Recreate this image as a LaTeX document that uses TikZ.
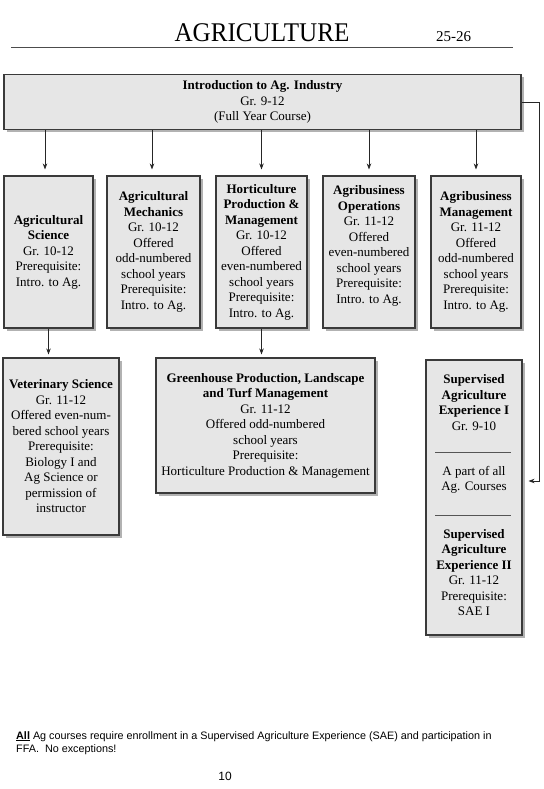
\documentclass[tikz,border=0pt]{standalone}
\usepackage{fontspec}
\setmainfont{Liberation Serif}
\setsansfont{Liberation Sans}
\usetikzlibrary{shadows,arrows.meta}
\definecolor{boxfill}{HTML}{E6E6E6}
\definecolor{boxline}{HTML}{3A3A3A}
\definecolor{rulegray}{HTML}{555555}
\begin{document}
\begin{tikzpicture}[x=1pt,y=-1pt,
  box/.style={draw=boxline, line width=1.1pt, fill=boxfill,
    drop shadow={shadow xshift=2.5pt, shadow yshift=-2.5pt, fill=black, opacity=0.3},
    align=center, inner sep=0pt, font=\fontsize{13}{15.5}\selectfont},
  txt/.style={align=center, inner sep=0pt, font=\fontsize{13}{15.5}\selectfont},
  arr/.style={draw=black!85, line width=0.7pt, -{Stealth[length=6pt,width=4.5pt]}},
  sep/.style={draw=rulegray, line width=1pt}
]
\useasboundingbox (0,0) rectangle (543,789);
\fill[white] (0,0) rectangle (543,789);

% header
\node[anchor=base, inner sep=0pt, font=\fontsize{27}{30}\selectfont] (title) at (262,41.5) {\scalebox{0.93}[1]{AGRICULTURE}};
\node[anchor=base, inner sep=0pt, font=\fontsize{15}{18}\selectfont] (year) at (453.5,41.5) {25-26};
\coordinate (hl) at (11,47);
\coordinate (hr) at (513,47);
\draw[draw=black!70, line width=0.9pt] (hl) -- (hr);

% top box
\node[box, minimum width=517, minimum height=55] (intro) at (262.5,102)
  {\textbf{Introduction to Ag. Industry}\\Gr. 9-12\\(Full Year Course)};

% second row
\node[box, minimum width=89, minimum height=152] (sci) at (48.5,252)
  {\textbf{Agricultural}\\\textbf{Science}\\Gr. 10-12\\Prerequisite:\\Intro. to Ag.};
\node[box, minimum width=93, minimum height=152] (mech) at (153.5,252)
  {\textbf{Agricultural}\\\textbf{Mechanics}\\Gr. 10-12\\Offered\\odd-numbered\\school years\\Prerequisite:\\Intro. to Ag.};
\node[box, minimum width=91, minimum height=152] (hort) at (261.5,252)
  {\textbf{Horticulture}\\\textbf{Production \&}\\\textbf{Management}\\Gr. 10-12\\Offered\\even-numbered\\school years\\Prerequisite:\\Intro. to Ag.};
\node[box, minimum width=92, minimum height=152] (ops) at (369,252)
  {\textbf{Agribusiness}\\\textbf{Operations}\\Gr. 11-12\\Offered\\even-numbered\\school years\\Prerequisite:\\Intro. to Ag.\\\phantom{I}};
\node[box, minimum width=90, minimum height=152] (mgmt) at (476,252)
  {\textbf{Agribusiness}\\\textbf{Management}\\Gr. 11-12\\Offered\\odd-numbered\\school years\\Prerequisite:\\Intro. to Ag.};

% third row
\node[box, minimum width=116, minimum height=177] (vet) at (61,446.5)
  {\textbf{Veterinary Science}\\Gr. 11-12\\Offered even-num-\\bered school years\\Prerequisite:\\Biology I and\\Ag Science or\\permission of\\instructor};
\node[box, minimum width=219, minimum height=135] (green) at (265.5,425.5)
  {\textbf{Greenhouse Production, Landscape}\\\textbf{and Turf Management}\\Gr. 11-12\\Offered odd-numbered\\school years\\Prerequisite:\\Horticulture Production \& Management};

% SAE box
\node[box, minimum width=96, minimum height=275] (sae) at (474,497.5) {};
\node[txt] (sae1) at (474,402.5) {\textbf{Supervised}\\\textbf{Agriculture}\\\textbf{Experience I}\\Gr. 9-10};
\node[txt] (sae2) at (474,480) {A part of all\\Ag. Courses};
\node[txt] (sae3) at (474,572.5) {\textbf{Supervised}\\\textbf{Agriculture}\\\textbf{Experience II}\\Gr. 11-12\\Prerequisite:\\SAE I};
\coordinate (s1l) at (435,452);
\coordinate (s1r) at (511,452);
\coordinate (s2l) at (435,515);
\coordinate (s2r) at (511,515);
\draw[sep] (s1l) -- (s1r);
\draw[sep] (s2l) -- (s2r);

% connectors
\draw[arr, shorten >=6pt] (intro.south -| 45,0) -- (sci.north -| 45,0);
\draw[arr, shorten >=6pt] (intro.south -| 152,0) -- (mech.north -| 152,0);
\draw[arr, shorten >=6pt] (intro.south -| hort.north) -- (hort.north);
\draw[arr, shorten >=6pt] (intro.south -| ops.north) -- (ops.north);
\draw[arr, shorten >=6pt] (intro.south -| mgmt.north) -- (mgmt.north);
\draw[arr, shorten >=3pt] (sci.south) -- (sci.south |- vet.north);
\draw[arr, shorten >=3pt] (hort.south) -- (hort.south |- green.north);
\coordinate (turn) at (539.5,0);
\draw[arr, shorten >=6pt] (intro.east) -- (intro.east -| turn) |- ([yshift=16.5pt]sae.east);

% footer
\node[anchor=north west, align=left, inner sep=0pt, font=\sffamily\fontsize{10.8}{13}\selectfont] (note) at (16,731)
  {\underline{\textbf{All}} Ag courses require enrollment in a Supervised Agriculture Experience (SAE) and participation in\\FFA.\ \ No exceptions!};
\node[inner sep=0pt, font=\sffamily\fontsize{12}{14}\selectfont] (page) at (225,776) {10};
\end{tikzpicture}
\end{document}
